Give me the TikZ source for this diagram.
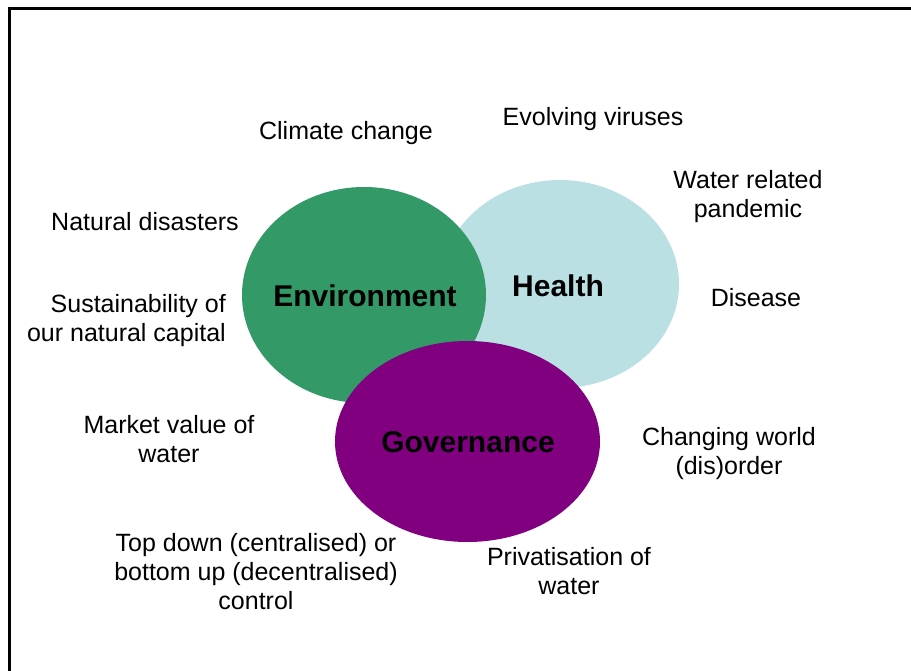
\documentclass[tikz,border=0pt]{standalone}
\usepackage{fontspec}
\setmainfont{Liberation Sans}
\usetikzlibrary{shapes.geometric}

\definecolor{envgreen}{HTML}{339966}
\definecolor{healthblue}{HTML}{BBE0E3}
\definecolor{govpurple}{HTML}{800080}

\tikzset{
  blob/.style={ellipse, inner sep=0pt, font=\fontsize{30}{36}\selectfont\bfseries, text=black},
  issue/.style={font=\fontsize{25}{29}\selectfont, inner sep=0pt, align=center, text=black},
  frame/.style={line width=3pt, black}
}

\begin{document}
\begin{tikzpicture}[x=1pt, y=-1pt]
  \useasboundingbox (0,0) rectangle (911,671);
  \fill[white] (0,0) rectangle (911,671);

  % outer frame (open towards the right and bottom edges)
  \coordinate (fbl) at (9.5,671);
  \coordinate (ftl) at (9.5,8.5);
  \coordinate (ftr) at (911,8.5);
  \draw[frame] (fbl) -- (ftl) -- (ftr);

  % the three overlapping themes
  \node[blob, fill=healthblue, minimum width=238pt, minimum height=208pt] (health) at (560,284) {};
  \node[blob, fill=envgreen, minimum width=244pt, minimum height=216pt] (env) at (364,295) {};
  \node[blob, fill=govpurple, minimum width=265pt, minimum height=201pt] (gov) at (467.5,441.5) {};

  \node[blob] (healthlbl) at (558,286) {Health};
  \node[blob] (envlbl) at (365,296) {Environment};
  \node[blob] (govlbl) at (468,442) {Governance};

  % surrounding issues
  \node[issue] (climate) at (346,133) {Climate change};
  \node[issue] (viruses) at (593,119) {Evolving viruses};
  \node[issue] (pandemic) at (748,197) {Water related\\pandemic};
  \node[issue] (disasters) at (145,222) {Natural disasters};
  \node[issue, align=right, anchor=east] (capital) at (226,321) {Sustainability of\\our natural capital};
  \node[issue] (disease) at (756,298) {Disease};
  \node[issue] (market) at (169,439) {Market value of\\water};
  \node[issue] (order) at (729,454) {Changing world\\(dis)order};
  \node[issue] (control) at (256,572) {Top down (centralised) or\\bottom up (decentralised)\\control};
  \node[issue] (private) at (569,571) {Privatisation of\\water};
\end{tikzpicture}
\end{document}
